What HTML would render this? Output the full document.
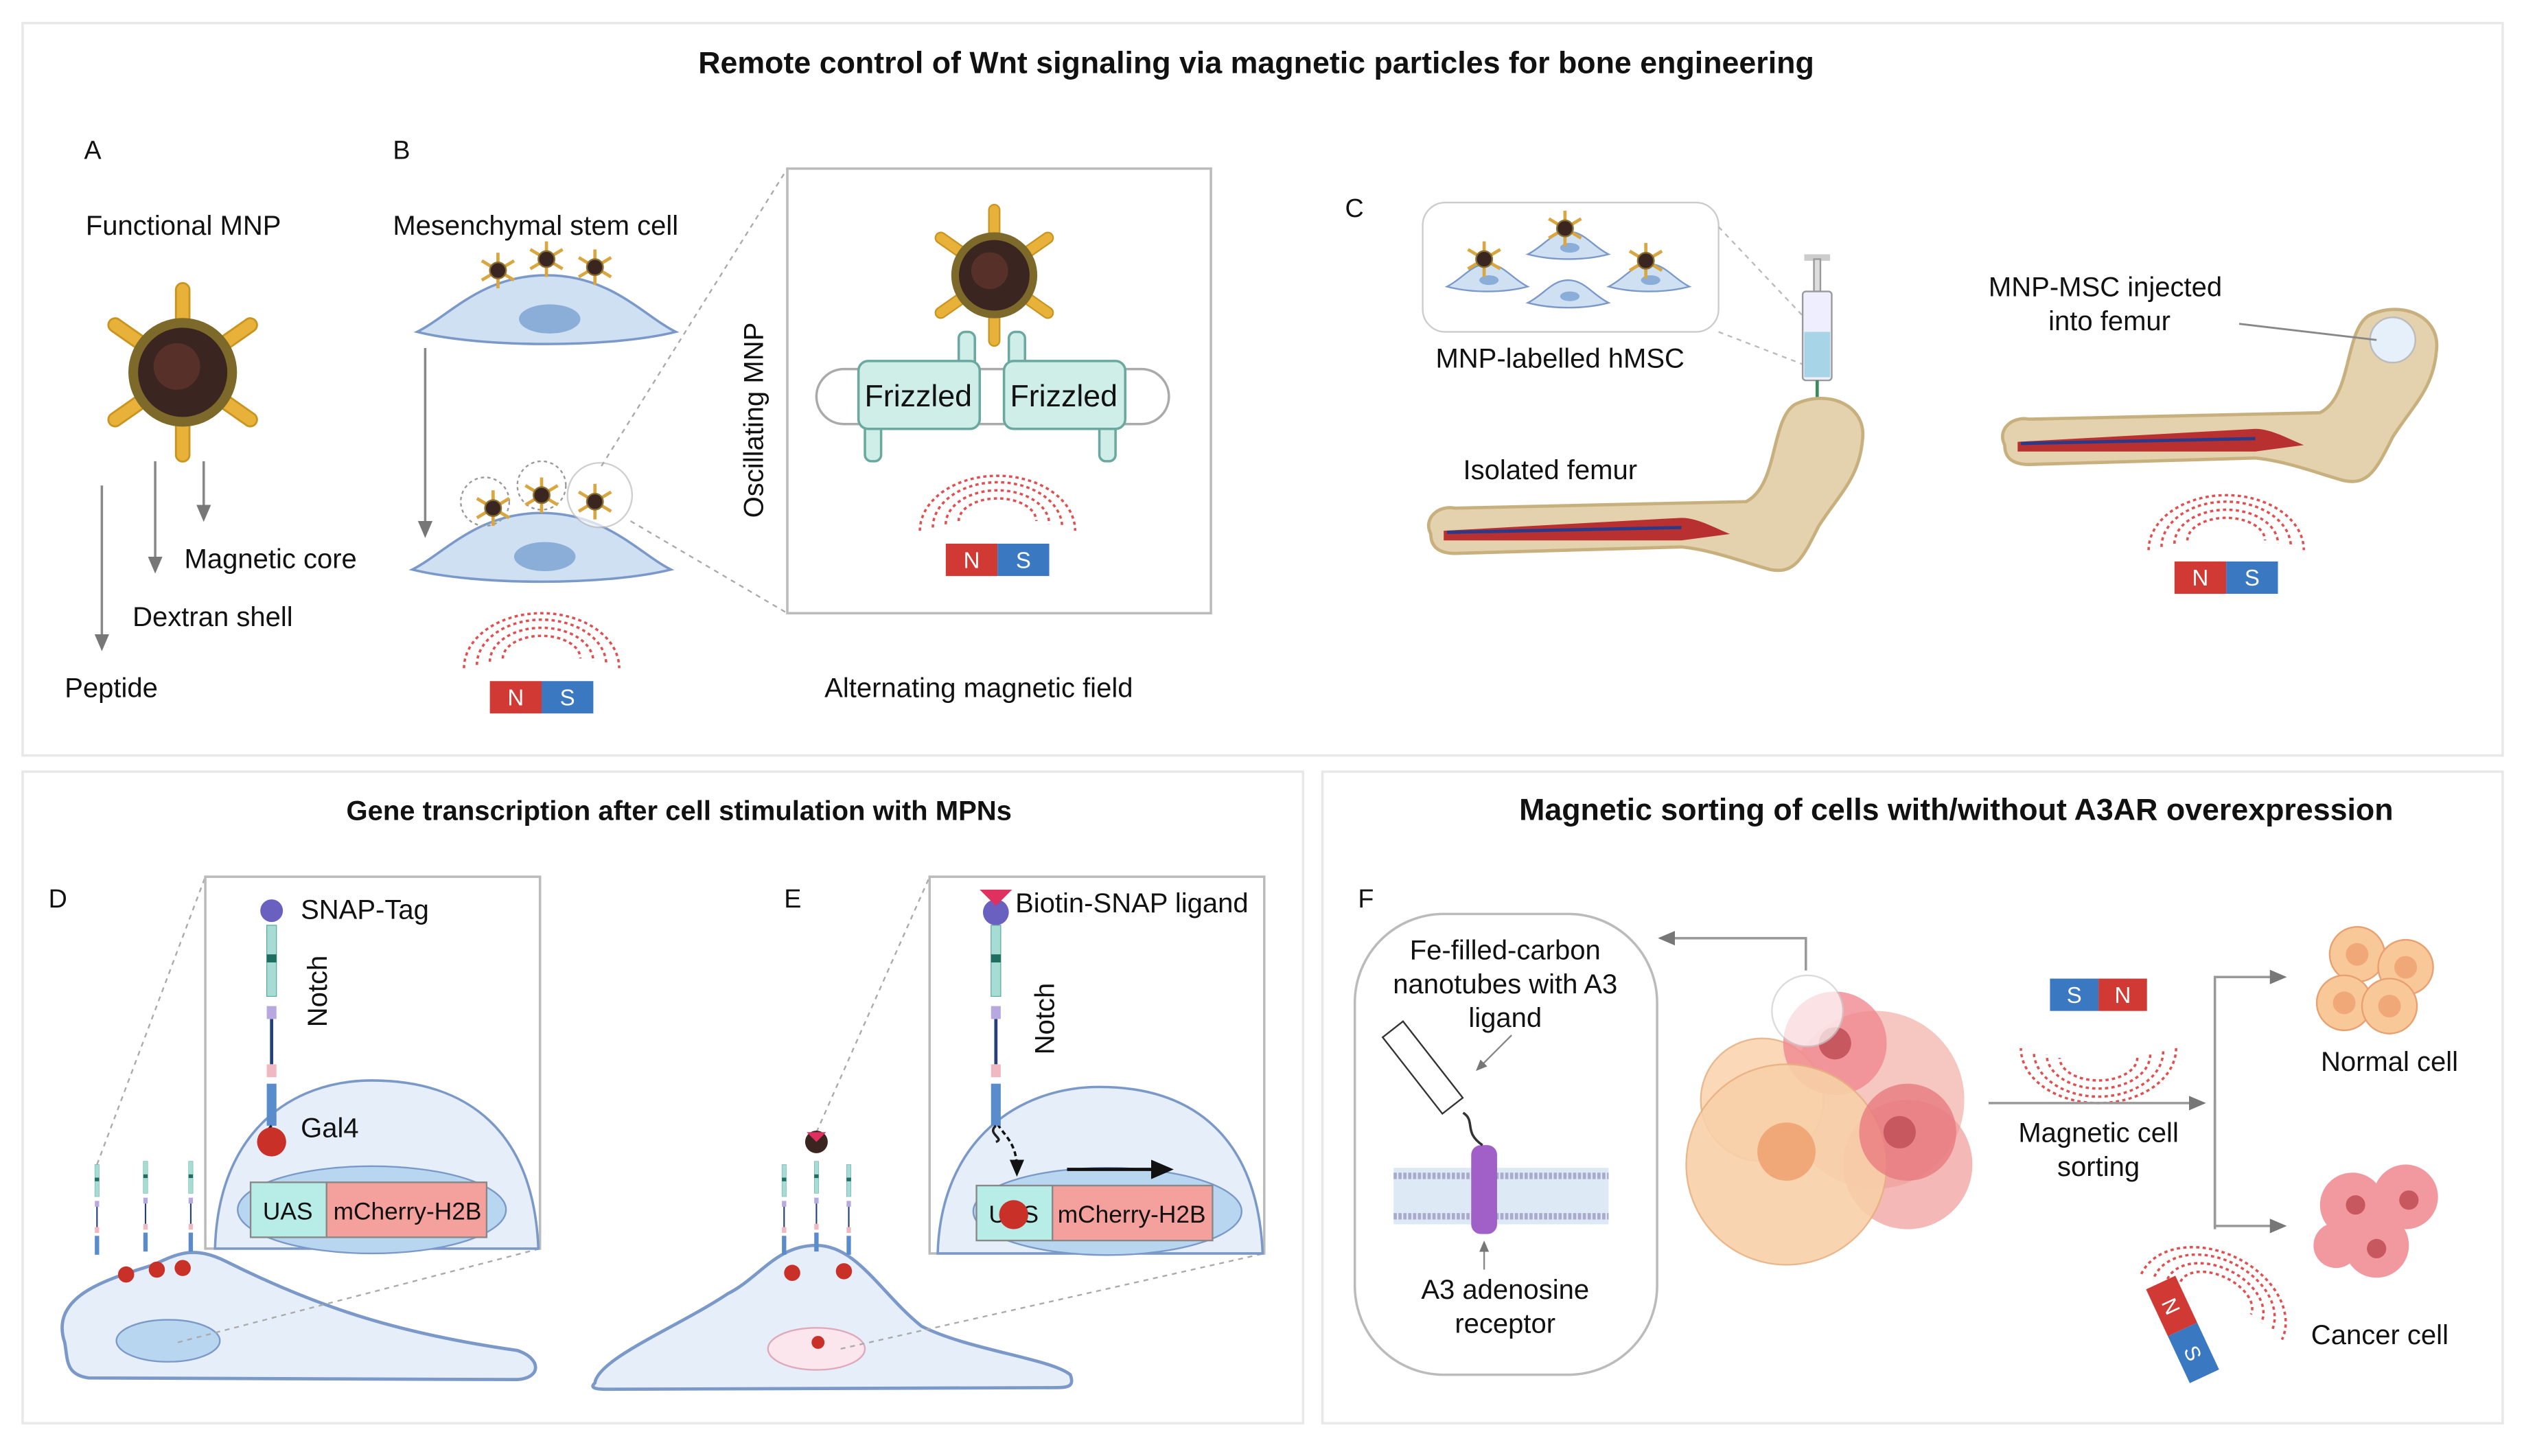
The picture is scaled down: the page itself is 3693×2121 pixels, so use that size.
<!DOCTYPE html><html><head><style>html,body{margin:0;padding:0;background:#fff}svg{display:block}text{font-family:"Liberation Sans",sans-serif;fill:#111}</style></head><body>
<svg width="3693" height="2121" viewBox="0 0 1568 900" xmlns="http://www.w3.org/2000/svg">
<defs>
<marker id="ah" markerWidth="8" markerHeight="8" refX="4" refY="4" orient="auto"><path d="M0,1 L7,4 L0,7 z" fill="#777"/></marker>
<marker id="ahk" markerWidth="8" markerHeight="8" refX="4" refY="4" orient="auto"><path d="M0,1 L7,4 L0,7 z" fill="#111"/></marker>
<g id="mnp"><g fill="#e8b23a" stroke="#c99420" stroke-width="1">
<rect x="-3.5" y="-46" width="7" height="22" rx="3.5"/><rect x="-3.5" y="-46" width="7" height="22" rx="3.5" transform="rotate(55)"/><rect x="-3.5" y="-46" width="7" height="22" rx="3.5" transform="rotate(-55)"/><rect x="-3.5" y="-46" width="7" height="22" rx="3.5" transform="rotate(125)"/><rect x="-3.5" y="-46" width="7" height="22" rx="3.5" transform="rotate(-125)"/><rect x="-3.5" y="-46" width="7" height="22" rx="3.5" transform="rotate(180)"/></g>
<circle r="28" fill="#7d6a2a"/><circle r="23" fill="#3a2520"/><circle r="12" cx="-3" cy="-3" fill="#6a3a30" opacity=".6"/></g>
<g id="smnp"><g stroke="#d9a640" stroke-width="2"><line x1="0" y1="-11" x2="0" y2="11"/><line x1="-10" y1="-6" x2="10" y2="6"/><line x1="-10" y1="6" x2="10" y2="-6"/></g><circle r="5" fill="#3a2520" stroke="#8a7030"/></g>
<g id="mag"><rect x="0" y="0" width="32" height="20" fill="#d13a34"/><rect x="32" y="0" width="32" height="20" fill="#3a78c2"/><text x="16" y="15" text-anchor="middle" font-size="14" style="fill:#fff">N</text><text x="48" y="15" text-anchor="middle" font-size="14" style="fill:#fff">S</text></g>
<g id="arcs" fill="none" stroke="#e05050" stroke-width="1.5" stroke-dasharray="2 2"><path d="M-48,0 A48,34 0 0 1 48,0"/><path d="M-40,-2 A40,28 0 0 1 40,-2"/><path d="M-32,-4 A32,21 0 0 1 32,-4"/><path d="M-24,-6 A24,14 0 0 1 24,-6"/></g>
<g id="msc"><path d="M-80,10 C-60,0 -40,-25 0,-25 C40,-25 60,0 80,10 C40,20 -40,20 -80,10 z" fill="#cfe0f3" stroke="#7a98c8" stroke-width="1.5"/><ellipse cx="2" cy="2" rx="19" ry="9" fill="#8aaed8"/></g>
<g id="sc"><path d="M-25,5 C-15,0 -10,-9 0,-9 C10,-9 15,0 25,5 C10,9 -10,9 -25,5 z" fill="#cfe0f3" stroke="#7a98c8"/><ellipse cx="1" cy="1" rx="6" ry="3" fill="#8aaed8"/></g>
<g id="notch"><rect x="-3" y="0" width="6" height="44" fill="#a7dcd4" stroke="#5aa6a0" stroke-width=".5"/><rect x="-3" y="18" width="6" height="5" fill="#1e6e62"/><rect x="-3" y="50" width="6" height="8" fill="#b8a8e0"/><line x1="0" y1="58" x2="0" y2="86" stroke="#23407a" stroke-width="2"/><rect x="-3" y="86" width="6" height="8" fill="#f0b8c0"/><rect x="-3" y="98" width="6" height="26" fill="#5a8ccc"/></g>
</defs>
<rect width="1568" height="900" fill="#fff"/>
<g fill="none" stroke="#e8e8e8" stroke-width="1.5"><rect x="14" y="14" width="1534" height="453"/><rect x="14" y="477" width="792" height="403"/><rect x="818" y="477" width="730" height="403"/></g>
<text x="777" y="45" text-anchor="middle" font-size="19" font-weight="bold">Remote control of Wnt signaling via magnetic particles for bone engineering</text>
<text x="420" y="507" text-anchor="middle" font-size="17" font-weight="bold">Gene transcription after cell stimulation with MPNs</text>
<text x="1210" y="507" text-anchor="middle" font-size="19" font-weight="bold">Magnetic sorting of cells with/without A3AR overexpression</text>
<text x="52" y="98" font-size="16">A</text><text x="243" y="98" font-size="16">B</text>
<text x="53" y="145" font-size="17">Functional MNP</text>
<use href="#mnp" x="113" y="230" transform="translate(113 230) scale(1.2) translate(-113 -230)"/>
<g stroke="#888" stroke-width="1.5"><line x1="63" y1="300" x2="63" y2="398" marker-end="url(#ah)"/><line x1="96" y1="285" x2="96" y2="350" marker-end="url(#ah)"/><line x1="126" y1="285" x2="126" y2="318" marker-end="url(#ah)"/></g>
<text x="114" y="351" font-size="17">Magnetic core</text><text x="82" y="387" font-size="17">Dextran shell</text><text x="40" y="431" font-size="17">Peptide</text>
<text x="243" y="145" font-size="17">Mesenchymal stem cell</text>
<use href="#msc" x="338" y="195"/>
<use href="#smnp" x="308" y="167"/><use href="#smnp" x="338" y="160"/><use href="#smnp" x="368" y="165"/>
<line x1="263" y1="215" x2="263" y2="328" stroke="#888" stroke-width="1.5" marker-end="url(#ah)"/>
<use href="#msc" x="335" y="342"/>
<g fill="none" stroke="#999" stroke-dasharray="2 2"><circle cx="300" cy="310" r="15"/><circle cx="335" cy="300" r="15"/></g>
<circle cx="371" cy="306" r="20" fill="#fff" stroke="#bbb" opacity=".7"/>
<use href="#smnp" x="305" y="314"/><use href="#smnp" x="335" y="306"/><use href="#smnp" x="368" y="310"/>
<use href="#arcs" x="335" y="413"/><use href="#mag" x="303" y="421"/>
<g stroke="#aaa" stroke-dasharray="3 3"><line x1="372" y1="288" x2="487" y2="104"/><line x1="390" y1="322" x2="487" y2="379"/></g>
<rect x="487" y="104" width="262" height="275" fill="#fff" stroke="#bbb" stroke-width="1.5"/>
<rect x="505" y="228" width="218" height="34" rx="17" fill="#fff" stroke="#aaa" stroke-width="1.5"/>
<g fill="#cfeee8" stroke="#6aa8a0" stroke-width="1.5"><rect x="593" y="205" width="10" height="30" rx="4"/><rect x="624" y="205" width="10" height="30" rx="4"/><rect x="535" y="255" width="10" height="30" rx="4"/><rect x="680" y="255" width="10" height="30" rx="4"/>
<rect x="531" y="223" width="75" height="42" rx="6"/><rect x="621" y="223" width="75" height="42" rx="6"/></g>
<text x="568" y="251" text-anchor="middle" font-size="19">Frizzled</text><text x="658" y="251" text-anchor="middle" font-size="19">Frizzled</text>
<g transform="translate(615 170) scale(0.95)"><use href="#mnp"/></g>
<use href="#arcs" x="617" y="328"/><use href="#mag" x="585" y="336"/>
<text transform="translate(472 320) rotate(-90)" font-size="17">Oscillating MNP</text>
<text x="510" y="431" font-size="17">Alternating magnetic field</text>
<text x="832" y="134" font-size="16">C</text>
<rect x="880" y="125" width="183" height="80" rx="14" fill="#fff" stroke="#ccc"/>
<use href="#sc" x="920" y="172"/><use href="#sc" x="970" y="152"/><use href="#sc" x="1020" y="172"/><use href="#sc" x="970" y="182"/>
<use href="#smnp" x="918" y="160"/><use href="#smnp" x="968" y="141"/><use href="#smnp" x="1018" y="161"/>
<g stroke="#bbb" stroke-dasharray="3 3"><line x1="1063" y1="140" x2="1115" y2="195"/><line x1="1063" y1="205" x2="1115" y2="225"/></g>
<text x="888" y="227" font-size="17">MNP-labelled hMSC</text>
<g><rect x="1116" y="157" width="16" height="4" fill="#ccc"/><rect x="1122" y="160" width="4" height="20" fill="#ddd" stroke="#999"/><rect x="1115" y="180" width="18" height="55" rx="2" fill="#eef" stroke="#999"/><rect x="1116" y="205" width="16" height="28" fill="#a8d4e8"/><line x1="1124" y1="235" x2="1124" y2="272" stroke="#3a8a5a" stroke-width="2"/></g>
<path d="M885,330 C880,320 890,312 900,314 L1080,310 C1100,300 1095,260 1110,250 C1130,240 1155,250 1152,272 C1150,295 1138,305 1125,325 C1115,345 1110,355 1095,352 C1080,348 1060,340 1040,338 L900,342 C890,342 885,338 885,330 z" fill="#e3d2ad" stroke="#c8b07e" stroke-width="2"/>
<path d="M893,328 L1040,320 C1050,320 1060,326 1070,330 L1040,334 L893,334 z" fill="#b83030"/><line x1="895" y1="329" x2="1040" y2="326" stroke="#2a3a8a" stroke-width="2"/>
<text x="905" y="296" font-size="17">Isolated femur</text>
<g transform="translate(355 -55)"><path d="M885,330 C880,320 890,312 900,314 L1080,310 C1100,300 1095,260 1110,250 C1130,240 1155,250 1152,272 C1150,295 1138,305 1125,325 C1115,345 1110,355 1095,352 C1080,348 1060,340 1040,338 L900,342 C890,342 885,338 885,330 z" fill="#e3d2ad" stroke="#c8b07e" stroke-width="2"/>
<path d="M893,328 L1040,320 C1050,320 1060,326 1070,330 L1040,334 L893,334 z" fill="#b83030"/><line x1="895" y1="329" x2="1040" y2="326" stroke="#2a3a8a" stroke-width="2"/></g>
<circle cx="1480" cy="210" r="14" fill="#e6f0fa" stroke="#bbb"/>
<line x1="1385" y1="200" x2="1470" y2="210" stroke="#888" stroke-width="1.2"/>
<text x="1230" y="183" font-size="17">MNP-MSC injected</text><text x="1267" y="204" font-size="17">into femur</text>
<use href="#arcs" x="1377" y="340"/><use href="#mag" x="1345" y="347"/>
<text x="30" y="561" font-size="16">D</text>
<path d="M40,830 C30,800 70,790 95,782 C110,775 120,770 140,780 C200,810 250,825 320,835 C335,840 335,852 320,853 L55,852 C40,850 42,840 40,830 z" fill="#e6eff9" stroke="#7a98c8" stroke-width="2"/>
<ellipse cx="104" cy="829" rx="32" ry="13" fill="#b9d6f0" stroke="#7a98c8"/>
<g stroke="#aaa" stroke-dasharray="3 3"><line x1="60" y1="720" x2="127" y2="542"/><line x1="110" y1="830" x2="334" y2="772"/></g>
<g transform="translate(60 720) scale(.45)"><use href="#notch"/></g><g transform="translate(90 718) scale(.45)"><use href="#notch"/></g><g transform="translate(118 718) scale(.45)"><use href="#notch"/></g>
<circle cx="78" cy="788" r="5" fill="#c83028"/><circle cx="97" cy="785" r="5" fill="#c83028"/><circle cx="113" cy="784" r="5" fill="#c83028"/>
<rect x="127" y="542" width="207" height="230" fill="#fff" stroke="#bbb" stroke-width="1.5"/>
<path d="M133,772 C135,700 180,668 230,668 C290,668 330,700 333,772 z" fill="#e6eff9" stroke="#7a98c8" stroke-width="1.5"/>
<ellipse cx="230" cy="748" rx="83" ry="27" fill="#b9d6f0" stroke="#7a98c8"/>
<rect x="155" y="731" width="47" height="34" fill="#b8ece6" stroke="#888"/><rect x="202" y="731" width="99" height="34" fill="#f4a09c" stroke="#888"/>
<text x="178" y="754" text-anchor="middle" font-size="15">UAS</text><text x="252" y="754" text-anchor="middle" font-size="15">mCherry-H2B</text>
<circle cx="168" cy="563" r="7" fill="#6a60c0"/>
<g transform="translate(168 572)"><use href="#notch"/></g>
<path d="M168,696 c-6,5 6,8 0,12" fill="none" stroke="#222" stroke-width="1.5"/>
<circle cx="168" cy="706" r="9" fill="#c83028"/>
<text x="186" y="568" font-size="17">SNAP-Tag</text><text transform="translate(202 635) rotate(-90)" font-size="17">Notch</text><text x="186" y="703" font-size="17">Gal4</text>
<text x="485" y="561" font-size="16">E</text>
<path d="M368,855 C370,840 420,820 450,800 C470,790 480,770 505,770 C530,770 545,800 570,820 C600,835 650,840 662,850 C665,858 660,858 650,858 L375,859 C365,859 366,857 368,855 z" fill="#e6eff9" stroke="#7a98c8" stroke-width="2"/>
<ellipse cx="505" cy="834" rx="30" ry="13" fill="#fbe6ee" stroke="#e0a8b8"/><circle cx="506" cy="830" r="4" fill="#c83028"/>
<g stroke="#aaa" stroke-dasharray="3 3"><line x1="505" y1="700" x2="575" y2="542"/><line x1="520" y1="834" x2="782" y2="775"/></g>
<g transform="translate(485 720) scale(.45)"><use href="#notch"/></g><g transform="translate(505 718) scale(.45)"><use href="#notch"/></g><g transform="translate(525 720) scale(.45)"><use href="#notch"/></g>
<circle cx="505" cy="706" r="7" fill="#3a2520"/><path d="M499,700 l12,0 l-6,6z" fill="#e03060"/>
<circle cx="490" cy="787" r="5" fill="#c83028"/><circle cx="522" cy="786" r="5" fill="#c83028"/>
<rect x="575" y="542" width="207" height="233" fill="#fff" stroke="#bbb" stroke-width="1.5"/>
<path d="M580,775 C582,705 630,672 680,672 C740,672 778,705 781,775 z" fill="#e6eff9" stroke="#7a98c8" stroke-width="1.5"/>
<ellipse cx="685" cy="749" rx="83" ry="27" fill="#b9d6f0" stroke="#7a98c8"/>
<rect x="604" y="733" width="47" height="34" fill="#b8ece6" stroke="#888"/><rect x="651" y="733" width="99" height="34" fill="#f4a09c" stroke="#888"/>
<text x="627" y="756" text-anchor="middle" font-size="15">UAS</text><text x="700" y="756" text-anchor="middle" font-size="15">mCherry-H2B</text>
<circle cx="627" cy="751" r="9" fill="#c83028"/>
<line x1="660" y1="723" x2="720" y2="723" stroke="#111" stroke-width="2" marker-end="url(#ahk)"/>
<path d="M617,695 c5,8 12,12 12,28" fill="none" stroke="#111" stroke-width="1.5" stroke-dasharray="3 2" marker-end="url(#ahk)"/>
<circle cx="616" cy="564" r="8" fill="#6a60c0"/><path d="M606,550 l20,0 l-10,10z" fill="#e03060"/>
<g transform="translate(616 572)"><use href="#notch"/></g>
<path d="M616,696 c-6,5 6,8 0,10" fill="none" stroke="#222" stroke-width="1.5"/>
<text x="628" y="564" font-size="17">Biotin-SNAP ligand</text><text transform="translate(652 652) rotate(-90)" font-size="17">Notch</text>
<text x="840" y="561" font-size="16">F</text>
<rect x="838" y="565" width="187" height="285" rx="55" fill="#fff" stroke="#bbb" stroke-width="1.5"/>
<rect x="862" y="722" width="133" height="35" fill="#ddeaf6"/><line x1="862" y1="727" x2="995" y2="727" stroke="#aac" stroke-width="4" stroke-dasharray="2 1"/><line x1="862" y1="752" x2="995" y2="752" stroke="#aac" stroke-width="4" stroke-dasharray="2 1"/>
<rect x="910" y="708" width="16" height="55" rx="6" fill="#a060c8"/>
<rect x="872" y="630" width="16" height="60" fill="#fff" stroke="#333" transform="rotate(-38 880 660)"/>
<path d="M905,688 c8,5 0,12 12,20" fill="none" stroke="#333" stroke-width="1.5"/>
<line x1="935" y1="640" x2="915" y2="660" stroke="#888" marker-end="url(#ah)"/><line x1="918" y1="785" x2="918" y2="770" stroke="#888" marker-end="url(#ah)"/>
<text x="931" y="593" text-anchor="middle" font-size="17">Fe-filled-carbon</text><text x="931" y="614" text-anchor="middle" font-size="17">nanotubes with A3</text><text x="931" y="635" text-anchor="middle" font-size="17">ligand</text>
<text x="931" y="803" text-anchor="middle" font-size="17">A3 adenosine</text><text x="931" y="824" text-anchor="middle" font-size="17">receptor</text>
<polyline points="1117,600 1117,580 1030,580" fill="none" stroke="#999" stroke-width="1.5" marker-end="url(#ah)"/>
<g><circle cx="1160" cy="680" r="55" fill="#f4b8b0" opacity=".8"/><circle cx="1180" cy="720" r="40" fill="#ef9a98" opacity=".7"/><circle cx="1090" cy="680" r="38" fill="#fbd8b8" stroke="#e8b890"/><circle cx="1135" cy="645" r="32" fill="#f08890" opacity=".8"/><circle cx="1105" cy="720" r="62" fill="#f8d0a8" stroke="#e8b080" opacity=".9"/><circle cx="1105" cy="712" r="18" fill="#f0a878"/><circle cx="1180" cy="700" r="30" fill="#e87a80" opacity=".8"/><circle cx="1175" cy="700" r="10" fill="#c85860"/><circle cx="1135" cy="645" r="10" fill="#c85860"/><circle cx="1118" cy="625" r="22" fill="#fff" stroke="#ccc" opacity=".7"/></g>
<rect x="1268" y="605" width="30" height="20" fill="#3a78c2"/><rect x="1298" y="605" width="30" height="20" fill="#d13a34"/><text x="1283" y="620" text-anchor="middle" font-size="14" style="fill:#fff">S</text><text x="1313" y="620" text-anchor="middle" font-size="14" style="fill:#fff">N</text>
<g transform="translate(1298 648) rotate(180)"><use href="#arcs"/></g>
<line x1="1230" y1="682" x2="1360" y2="682" stroke="#999" stroke-width="1.5" marker-end="url(#ah)"/>
<polyline points="1370,760 1370,604 1410,604" fill="none" stroke="#999" stroke-width="1.5" marker-end="url(#ah)"/>
<polyline points="1370,680 1370,758 1410,758" fill="none" stroke="#999" stroke-width="1.5" marker-end="url(#ah)"/>
<text x="1298" y="706" text-anchor="middle" font-size="17">Magnetic cell</text><text x="1298" y="727" text-anchor="middle" font-size="17">sorting</text>
<g fill="#f8c898" stroke="#e8a070"><circle cx="1458" cy="590" r="17"/><circle cx="1488" cy="598" r="17"/><circle cx="1450" cy="620" r="17"/><circle cx="1478" cy="622" r="17"/></g>
<g fill="#f0a878"><circle cx="1458" cy="590" r="7"/><circle cx="1488" cy="598" r="7"/><circle cx="1450" cy="620" r="7"/><circle cx="1478" cy="622" r="7"/></g>
<text x="1478" y="662" text-anchor="middle" font-size="17">Normal cell</text>
<g fill="#f08890" opacity=".85"><circle cx="1455" cy="745" r="20"/><circle cx="1488" cy="740" r="20"/><circle cx="1470" cy="770" r="20"/><circle cx="1445" cy="770" r="14"/></g>
<g fill="#c85860"><circle cx="1457" cy="745" r="6"/><circle cx="1490" cy="742" r="6"/><circle cx="1470" cy="772" r="6"/></g>
<text x="1472" y="831" text-anchor="middle" font-size="17">Cancer cell</text>
<g transform="translate(1350 822) rotate(65)"><rect x="-32" y="-10" width="32" height="20" fill="#d13a34"/><rect x="0" y="-10" width="32" height="20" fill="#3a78c2"/><text x="-16" y="5" text-anchor="middle" font-size="13" style="fill:#fff">N</text><text x="16" y="5" text-anchor="middle" font-size="13" style="fill:#fff">S</text></g>
<g transform="translate(1368 808) rotate(25)"><use href="#arcs"/></g>
</svg></body></html>
